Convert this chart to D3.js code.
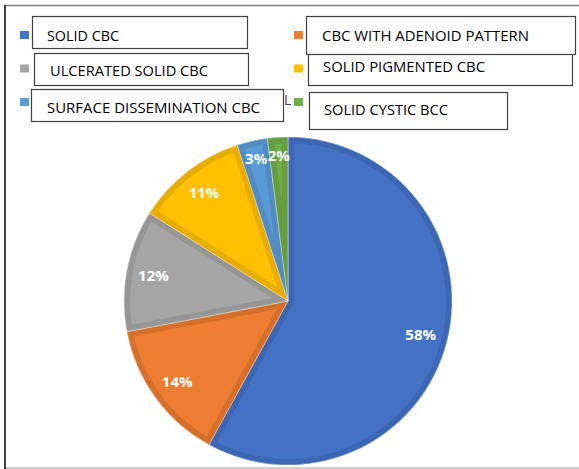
<!DOCTYPE html>
<html>
<head>
<meta charset="utf-8">
<script src="https://cdn.jsdelivr.net/npm/d3@7"></script>
<style>
  html, body { margin: 0; padding: 0; background: #fff; }
  svg { display: block; }
</style>
</head>
<body>
<svg id="chart" width="579" height="469"></svg>
<script>
const categories = ["SOLID CBC", "CBC WITH ADENOID PATTERN", "ULCERATED SOLID CBC",
                    "SOLID PIGMENTED CBC", "SURFACE DISSEMINATION CBC", "SOLID CYSTIC BCC"];
const values = [58, 14, 12, 11, 3, 2];
const labels = ["58%", "14%", "12%", "11%", "3%", "2%"];
const fills = ["#4472C4", "#ED7D31", "#A5A5A5", "#FFC000", "#5B9BD5", "#70AD47"];
const borders = ["#3D67B4", "#D66F2A", "#969696", "#E7AD00", "#528CC2", "#659D40"];

const svg = d3.select("#chart");

// frame
svg.append("line").attr("x1", 5).attr("x2", 579).attr("y1", 5.5).attr("y2", 5.5)
  .attr("stroke", "#7f7f7f").attr("stroke-width", 1.5);
svg.append("line").attr("x1", 5).attr("x2", 579).attr("y1", 468).attr("y2", 468)
  .attr("stroke", "#bfbfbf").attr("stroke-width", 1.5);
svg.append("line").attr("x1", 5).attr("x2", 5).attr("y1", 5).attr("y2", 469)
  .attr("stroke", "#000").attr("stroke-width", 1.5);

// pie
const cx = 288, cy = 301, R = 164;
const pie = d3.pie().sort(null).value(d => d)(values);
const arc = d3.arc().innerRadius(0).outerRadius(R);
const g = svg.append("g").attr("transform", `translate(${cx},${cy})`);
const defs = svg.append("defs");
pie.forEach((p, i) => {
  defs.append("clipPath").attr("id", "clip" + i).append("path").attr("d", arc(p));
});
const slices = g.selectAll("g.slice").data(pie).join("g").attr("class", "slice");
slices.append("path").attr("d", arc).attr("fill", (d, i) => fills[i]);
slices.append("path").attr("d", arc).attr("fill", "none")
  .attr("stroke", (d, i) => borders[i]).attr("stroke-width", 12)
  .attr("stroke-linejoin", "miter")
  .attr("clip-path", (d, i) => `url(#clip${i})`);
slices.append("path").attr("d", arc).attr("fill", "none")
  .attr("stroke", "#ffffff").attr("stroke-opacity", 0.5).attr("stroke-width", 0.8);

slices.append("text")
  .attr("transform", d => {
    const a = (d.startAngle + d.endAngle) / 2;
    const r = (d.data > 5) ? 137 : 146;
    return `translate(${r * Math.sin(a)},${-r * Math.cos(a)})`;
  })
  .attr("text-anchor", "middle")
  .attr("dy", "0.36em")
  .attr("fill", "#fff")
  .attr("font-family", "Open Sans, Liberation Sans, Arial, sans-serif")
  .attr("font-weight", "bold")
  .attr("font-size", 15)
  .text((d, i) => labels[i]);

// legend markers
const legendCols = [20, 294];
const legendRows = [35, 68.5, 102];
categories.forEach((c, i) => {
  const col = i % 2, row = Math.floor(i / 2);
  svg.append("rect").attr("x", legendCols[col]).attr("y", legendRows[row] - 4)
    .attr("width", 9).attr("height", 8).attr("fill", fills[i]);
});

// peeking glyph of hidden legend text
svg.append("text").attr("x", 284).attr("y", 104.5)
  .attr("font-family", "Open Sans, Liberation Sans, Arial, sans-serif").attr("font-size", 14)
  .attr("fill", "#404040").text("L");

// text boxes over legend
const boxes = [
  {x: 32, y: 16, w: 215, h: 32, tx: 47, ty: 41, tw: 72, cat: 0},
  {x: 34, y: 53, w: 214, h: 32, tx: 50, ty: 76, tw: 158, cat: 2},
  {x: 31, y: 89, w: 252, h: 32, tx: 47, ty: 113, tw: 213, cat: 4},
  {x: 308, y: 53, w: 264, h: 32, tx: 323, ty: 72, tw: 162, cat: 3},
  {x: 306, y: 16, w: 269, h: 38, tx: 322, ty: 41, tw: 207, cat: 1},
  {x: 309, y: 92, w: 198, h: 37, tx: 324, ty: 115, tw: 124, cat: 5}
];
boxes.forEach(b => {
  svg.append("rect").attr("x", b.x + 0.5).attr("y", b.y + 0.5)
    .attr("width", b.w).attr("height", b.h)
    .attr("fill", "#fff").attr("stroke", "#404040").attr("stroke-width", 1.2);
  svg.append("text").attr("x", b.tx).attr("y", b.ty)
    .attr("font-family", "Open Sans, Liberation Sans, Arial, sans-serif").attr("font-size", 14)
    .attr("fill", "#000")
    .attr("textLength", b.tw).attr("lengthAdjust", "spacingAndGlyphs")
    .text(categories[b.cat]);
});
</script>
</body>
</html>
